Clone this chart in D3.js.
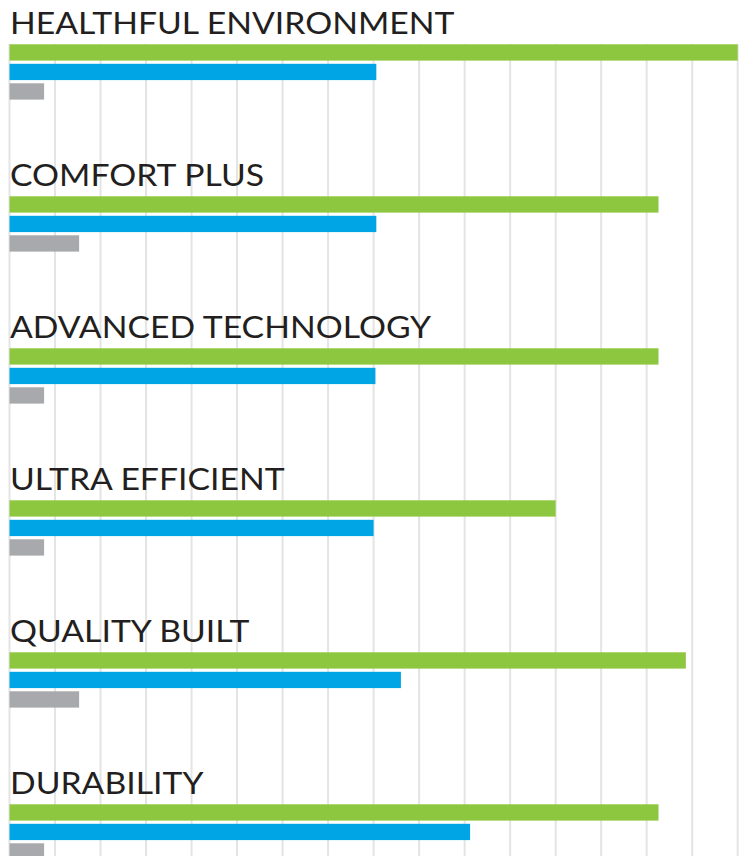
<!DOCTYPE html>
<html>
<head>
<meta charset="utf-8">
<script src="https://cdn.jsdelivr.net/npm/d3@7"></script>
<style>
  html, body { margin: 0; padding: 0; background: #ffffff; }
  svg { display: block; }
</style>
</head>
<body>
<script>
const categories = ["HEALTHFUL ENVIRONMENT", "COMFORT PLUS", "ADVANCED TECHNOLOGY", "ULTRA EFFICIENT", "QUALITY BUILT", "DURABILITY"];
const series = ["green", "blue", "gray"];
const greenValues = [16, 14.26, 14.26, 12.0, 14.86, 14.26];
const blueValues = [8.06, 8.06, 8.04, 8.0, 8.6, 10.12];
const grayValues = [0.76, 1.53, 0.76, 0.76, 1.53, 0.76];
const gridTicks = d3.range(0, 17);
const colors = { green: "#8dc63f", blue: "#00a5e5", gray: "#a7a9ac" };

const W = 744, H = 856;
const svg = d3.select("body").append("svg").attr("width", W).attr("height", H);

const x = d3.scaleLinear().domain([0, 16]).range([9.5, 737.7]);
const y = d3.scaleBand().domain(categories).range([44.3, 44.3 + 152 * 6]).paddingInner(0).paddingOuter(0);
const ySub = d3.scaleBand().domain(series).range([0, 55.3]).paddingInner(0.164).paddingOuter(0);

// gridlines
svg.append("g").selectAll("line").data(gridTicks).join("line")
  .attr("x1", d => x(d)).attr("x2", d => x(d))
  .attr("y1", 44).attr("y2", H)
  .attr("stroke", "#e4e4e4").attr("stroke-width", 2);

const rows = categories.map((c, i) => ({ cat: c, vals: { green: greenValues[i], blue: blueValues[i], gray: grayValues[i] } }));

const g = svg.append("g").selectAll("g").data(rows).join("g")
  .attr("transform", d => `translate(0,${y(d.cat)})`);

g.append("text")
  .attr("transform", "translate(10,-10) scale(1.125,1)")
  .attr("font-family", "Lato, 'Open Sans', sans-serif")
  .attr("font-size", 30)
  .attr("font-weight", 400)
  .attr("fill", "#231f20")
  .text(d => d.cat);

g.selectAll("rect").data(d => series.map(s => ({ s, v: d.vals[s] }))).join("rect")
  .attr("x", x(0))
  .attr("y", d => ySub(d.s))
  .attr("width", d => x(d.v) - x(0))
  .attr("height", ySub.bandwidth())
  .attr("fill", d => colors[d.s]);
</script>
</body>
</html>
